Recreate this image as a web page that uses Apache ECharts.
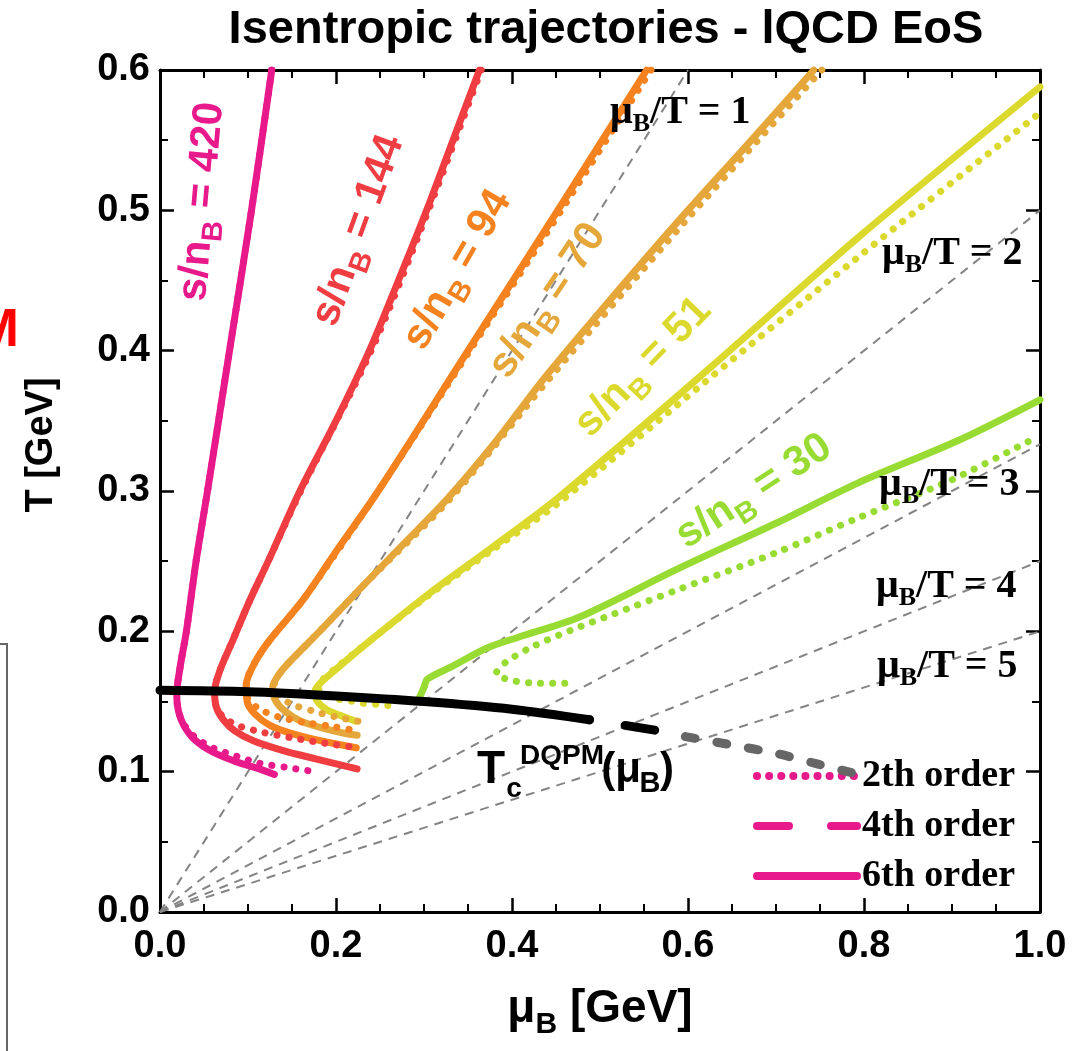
<!DOCTYPE html>
<html>
<head>
<meta charset="utf-8">
<title>Isentropic trajectories - lQCD EoS</title>
<script src="https://cdn.jsdelivr.net/npm/echarts@6/dist/echarts.min.js"></script>
<style>
  html, body { margin: 0; padding: 0; background: #fff; }
  #chart { width: 1087px; height: 1051px; }
</style>
</head>
<body>
<div id="chart"></div>
<script>
// axis ticks
const muTicks = [0.0, 0.2, 0.4, 0.6, 0.8, 1.0];
const tTicks = [0.0, 0.1, 0.2, 0.3, 0.4, 0.5, 0.6];

// s/nB values of the trajectories
const entropyPerBaryon = [420, 144, 94, 70, 51, 30];

// [muB, T] in GeV, 6th order (solid)
const sixth420 = [[0.127, 0.600], [0.104, 0.500], [0.079, 0.400], [0.054, 0.300], [0.041, 0.250], [0.030, 0.200], [0.023, 0.175], [0.019, 0.155], [0.021, 0.143], [0.027, 0.133], [0.039, 0.123], [0.060, 0.114], [0.087, 0.107], [0.113, 0.102], [0.130, 0.098]];
const sixth144 = [[0.363, 0.600], [0.333, 0.550], [0.303, 0.500], [0.271, 0.450], [0.238, 0.400], [0.200, 0.350], [0.159, 0.300], [0.123, 0.250], [0.102, 0.222], [0.083, 0.194], [0.068, 0.172], [0.062, 0.157], [0.064, 0.146], [0.072, 0.137], [0.085, 0.129], [0.106, 0.122], [0.140, 0.115], [0.178, 0.109], [0.224, 0.102]];
const sixth94 = [[0.553, 0.600], [0.452, 0.500], [0.350, 0.400], [0.248, 0.300], [0.198, 0.255], [0.162, 0.222], [0.125, 0.194], [0.108, 0.178], [0.098, 0.162], [0.099, 0.150], [0.108, 0.141], [0.125, 0.133], [0.151, 0.127], [0.190, 0.121], [0.223, 0.117]];
const sixth70 = [[0.743, 0.600], [0.665, 0.545], [0.590, 0.493], [0.510, 0.435], [0.435, 0.379], [0.380, 0.334], [0.326, 0.294], [0.278, 0.263], [0.230, 0.232], [0.183, 0.201], [0.150, 0.180], [0.136, 0.170], [0.128, 0.160], [0.131, 0.151], [0.142, 0.143], [0.160, 0.136], [0.185, 0.131], [0.212, 0.127], [0.224, 0.126]];
const sixth51 = [[1.000, 0.588], [0.794, 0.481], [0.620, 0.385], [0.454, 0.296], [0.380, 0.261], [0.306, 0.227], [0.240, 0.194], [0.200, 0.173], [0.182, 0.163], [0.176, 0.157], [0.179, 0.150], [0.190, 0.144], [0.205, 0.140], [0.222, 0.136]];
const sixth30 = [[0.295, 0.153], [0.300, 0.160], [0.304, 0.166], [0.332, 0.175], [0.371, 0.188], [0.408, 0.196], [0.476, 0.210], [0.590, 0.245], [0.700, 0.277], [0.794, 0.306], [0.907, 0.336], [1.000, 0.365]];

// 2nd order (dotted)
const second420 = [[0.127, 0.600], [0.104, 0.500], [0.079, 0.400], [0.054, 0.300], [0.041, 0.250], [0.030, 0.200], [0.023, 0.175], [0.019, 0.155], [0.021, 0.143], [0.027, 0.134], [0.039, 0.125], [0.060, 0.117], [0.087, 0.111], [0.113, 0.106], [0.144, 0.103], [0.176, 0.100]];
const second144 = [[0.365, 0.600], [0.305, 0.500], [0.240, 0.400], [0.160, 0.300], [0.123, 0.250], [0.102, 0.222], [0.083, 0.194], [0.068, 0.172], [0.062, 0.157], [0.064, 0.146], [0.072, 0.139], [0.088, 0.133], [0.117, 0.128], [0.151, 0.124], [0.190, 0.120], [0.227, 0.117]];
const second94 = [[0.558, 0.600], [0.456, 0.500], [0.352, 0.400], [0.248, 0.300], [0.162, 0.222], [0.125, 0.194], [0.108, 0.178], [0.098, 0.162], [0.100, 0.152], [0.112, 0.145], [0.135, 0.139], [0.165, 0.135], [0.197, 0.132], [0.225, 0.129]];
const second70 = [[0.752, 0.600], [0.598, 0.493], [0.441, 0.379], [0.329, 0.294], [0.230, 0.232], [0.183, 0.201], [0.150, 0.180], [0.136, 0.170], [0.130, 0.162], [0.136, 0.154], [0.150, 0.148], [0.175, 0.143], [0.200, 0.139], [0.225, 0.136]];
const second51 = [[0.995, 0.567], [0.794, 0.467], [0.620, 0.378], [0.454, 0.292], [0.380, 0.259], [0.306, 0.226], [0.240, 0.194], [0.200, 0.174], [0.184, 0.165], [0.180, 0.160], [0.186, 0.155], [0.198, 0.152], [0.212, 0.151], [0.227, 0.149], [0.246, 0.148], [0.262, 0.147]];
const second30 = [[0.460, 0.163], [0.430, 0.163], [0.400, 0.165], [0.382, 0.170], [0.393, 0.178], [0.423, 0.189], [0.468, 0.201], [0.514, 0.212], [0.590, 0.230], [0.700, 0.256], [0.794, 0.281], [0.900, 0.308], [0.998, 0.339]];

// T_c^DQPM(muB)
const tcSolid = [[0.000, 0.158], [0.100, 0.157], [0.200, 0.154], [0.300, 0.150], [0.400, 0.1445], [0.488, 0.137]];
const tcDashed = [[0.488, 0.137], [0.578, 0.128]];
const tcGray = [[0.597, 0.125], [0.650, 0.119], [0.700, 0.113], [0.750, 0.105], [0.800, 0.097]];

// muB/T = const lines, end points inside the frame
const ratioValues = [1, 2, 3, 4, 5];
const ratioEnds = [[0.6, 0.6], [1.0, 0.5], [1.0, 0.3333], [1.0, 0.25], [1.0, 0.2]];

const legendNames = ['2th order', '4th order', '6th order'];

const sixthOrder = [sixth420, sixth144, sixth94, sixth70, sixth51, sixth30];
const secondOrder = [second420, second144, second94, second70, second51, second30];
const colors = ['#e8198b', '#ef3d42', '#f4821f', '#e5a63a', '#dcd92e', '#98dc33'];

const SANS = "'Liberation Sans', Arial, sans-serif";
const SERIF = "'Liberation Serif', 'Times New Roman', serif";

let series = [];

ratioValues.forEach(function (n, i) {
  series.push({
    name: 'muB/T = ' + n,
    type: 'line',
    data: [[0, 0], ratioEnds[i]],
    symbol: 'none',
    z: 1,
    lineStyle: { color: '#848484', width: 2, type: [9, 7] }
  });
});

entropyPerBaryon.forEach(function (s, i) {
  series.push({
    name: 's/nB = ' + s + ' (6th)',
    type: 'line',
    data: sixthOrder[i],
    symbol: 'none',
    smooth: 0.3,
    z: 3,
    lineStyle: { color: colors[i], width: 7, cap: 'round', join: 'round' }
  });
  series.push({
    name: 's/nB = ' + s + ' (2th)',
    type: 'line',
    data: secondOrder[i],
    symbol: 'none',
    smooth: 0.3,
    z: 4,
    lineStyle: { color: colors[i], width: 7, type: [0.1, 12], cap: 'round' }
  });
});

series.push({
  name: 'Tc solid', type: 'line', data: tcSolid, symbol: 'none', smooth: 0.3, z: 6,
  lineStyle: { color: '#000', width: 9, cap: 'round' }
});
series.push({
  name: 'Tc dashed', type: 'line', data: tcDashed, symbol: 'none', z: 6,
  lineStyle: { color: '#000', width: 9, cap: 'round', type: [0.1, 36, 30, 200] }
});
series.push({
  name: 'Tc gray', type: 'line', data: tcGray, symbol: 'none', smooth: 0.3, z: 6,
  lineStyle: { color: '#666', width: 9, cap: 'round', type: [10, 22] }
});

// legend entries (pink samples)
const legendTypes = [[0.1, 12], [32, 42], 'solid'];
legendNames.forEach(function (name, i) {
  series.push({
    name: name, type: 'line', data: [], symbol: 'none', showSymbol: false,
    itemStyle: { color: colors[0], opacity: 0 },
    lineStyle: { color: colors[0], width: 8, cap: 'round', type: legendTypes[i] }
  });
});

function axisBase(extra) {
  return Object.assign({
    type: 'value',
    axisLine: { show: true, onZero: false, lineStyle: { color: '#000', width: 3 } },
    axisTick: { show: true, inside: true, length: 14, lineStyle: { color: '#000', width: 2.5 } },
    splitLine: { show: false }
  }, extra);
}

const tickLabel = function (v) { return v.toFixed(1); };
const xMin = muTicks[0], xMax = muTicks[muTicks.length - 1], xStep = muTicks[1] - muTicks[0];
const yMin = tTicks[0], yMax = tTicks[tTicks.length - 1], yStep = tTicks[1] - tTicks[0];
const xMinor = { show: true, splitNumber: 4, length: 8, lineStyle: { color: '#000', width: 2 } };
const yMinor = { show: true, splitNumber: 2, length: 8, lineStyle: { color: '#000', width: 2 } };

const option = {
  animation: false,
  backgroundColor: '#fff',
  grid: { left: 160, right: 47, top: 70, bottom: 139, containLabel: false, outerBoundsMode: 'none' },
  xAxis: [
    axisBase({
      min: xMin, max: xMax, interval: xStep, position: 'bottom', minorTick: xMinor,
      axisLabel: { color: '#000', fontFamily: SANS, fontWeight: 'bold', fontSize: 38, margin: 16, formatter: tickLabel },
      name: '{m|\u03bc}{s|B}{m| [GeV]}',
      nameLocation: 'middle',
      nameGap: 74,
      nameTextStyle: {
        rich: {
          m: { fontFamily: SANS, fontWeight: 'bold', fontSize: 46, color: '#000', lineHeight: 54, verticalAlign: 'top' },
          s: { fontFamily: SANS, fontWeight: 'bold', fontSize: 30, color: '#000', lineHeight: 30, verticalAlign: 'bottom' }
        }
      }
    }),
    axisBase({
      min: xMin, max: xMax, interval: xStep, position: 'top', minorTick: xMinor,
      axisLabel: { show: false }
    })
  ],
  yAxis: [
    axisBase({
      min: yMin, max: yMax, interval: yStep, position: 'left', minorTick: yMinor,
      axisLabel: { color: '#000', fontFamily: SANS, fontWeight: 'bold', fontSize: 38, margin: 10, formatter: tickLabel }
    }),
    axisBase({
      min: yMin, max: yMax, interval: yStep, position: 'right', minorTick: yMinor,
      axisLabel: { show: false }
    })
  ],
  legend: {
    data: legendNames,
    orient: 'vertical',
    left: 748,
    top: 752,
    itemWidth: 100,
    itemHeight: 12,
    itemGap: 12,
    selectedMode: false,
    itemStyle: { opacity: 0 },
    lineStyle: { width: 8 },
    textStyle: { fontFamily: SERIF, fontWeight: 'bold', fontSize: 38, color: '#000' }
  },
  series: series,
  graphic: []
};

function txt(x, y, text, font, fill, extra) {
  return Object.assign({
    type: 'text', x: x, y: y, z: 50,
    style: {
      text: text, font: font, fill: fill,
      align: 'center', verticalAlign: 'middle',
      textAlign: 'center', textVerticalAlign: 'middle'
    }
  }, extra || {});
}

function richLabel(x, y, angleDeg, value, color) {
  return {
    type: 'text', x: x, y: y, z: 50,
    rotation: angleDeg * Math.PI / 180,
    style: {
      text: '{a|s/n}{b|B}{a| = ' + value + '}',
      align: 'center', verticalAlign: 'middle',
      textAlign: 'center', textVerticalAlign: 'middle',
      rich: {
        a: { fontFamily: SANS, fontWeight: 'bold', fontSize: 42, fill: color, lineHeight: 50, verticalAlign: 'top' },
        b: { fontFamily: SANS, fontWeight: 'bold', fontSize: 29, fill: color, lineHeight: 29, verticalAlign: 'bottom' }
      }
    }
  };
}

function ratioLabel(x, y, n) {
  return {
    type: 'text', x: x, y: y, z: 50,
    style: {
      text: '{m|\u03bc}{s|B}{m|/T = ' + n + '}',
      align: 'left', verticalAlign: 'middle',
      textAlign: 'left', textVerticalAlign: 'middle',
      rich: {
        m: { fontFamily: SERIF, fontWeight: 'bold', fontSize: 40, fill: '#000', lineHeight: 44, verticalAlign: 'top' },
        s: { fontFamily: SERIF, fontWeight: 'bold', fontSize: 26, fill: '#000', lineHeight: 26, verticalAlign: 'bottom' }
      }
    }
  };
}

const labelPlaces = [[206, 202, 85], [362, 232, 70], [461, 272, 60], [551, 303, 56], [646, 370, 46], [756, 495, 33]];
entropyPerBaryon.forEach(function (s, i) {
  const p = labelPlaces[i];
  option.graphic.push(richLabel(p[0], p[1], p[2], s, colors[i]));
});

const ratioLabelPlaces = [[610, 115], [882, 256], [879, 487], [876, 589], [877, 669]];
ratioValues.forEach(function (n, i) {
  option.graphic.push(ratioLabel(ratioLabelPlaces[i][0], ratioLabelPlaces[i][1], n));
});

// title
option.graphic.push(txt(606, 30, 'Isentropic trajectories - lQCD EoS', 'bold 47px ' + SANS, '#000'));

// y axis name
option.graphic.push(txt(42, 445, 'T [GeV]', 'bold 38px ' + SANS, '#000', { rotation: Math.PI / 2 }));

// T_c^DQPM(muB) label
option.graphic.push(txt(491, 770, 'T', 'bold 46px ' + SANS, '#000'));
option.graphic.push(txt(514, 789, 'c', 'bold 28px ' + SANS, '#000'));
option.graphic.push(txt(562, 756, 'DQPM', 'bold 28px ' + SANS, '#000'));
option.graphic.push(txt(621, 770, '(\u03bc', 'bold 42px ' + SANS, '#000'));
option.graphic.push(txt(650, 784, 'B', 'bold 29px ' + SANS, '#000'));
option.graphic.push(txt(667, 770, ')', 'bold 42px ' + SANS, '#000'));

// cut-off pieces of the neighbouring figure
option.graphic.push({
  type: 'text', x: -26, y: 331, z: 50,
  style: { text: 'M', font: 'bold 54px ' + SANS, fill: '#ff0000', align: 'left', verticalAlign: 'middle', textAlign: 'left', textVerticalAlign: 'middle' }
});
option.graphic.push({
  type: 'polyline', z: 50,
  shape: { points: [[0, 644], [7, 644], [7, 1051]] },
  style: { stroke: '#666', lineWidth: 2, fill: null }
});

const chart = echarts.init(document.getElementById('chart'));
chart.setOption(option);
</script>
</body>
</html>
